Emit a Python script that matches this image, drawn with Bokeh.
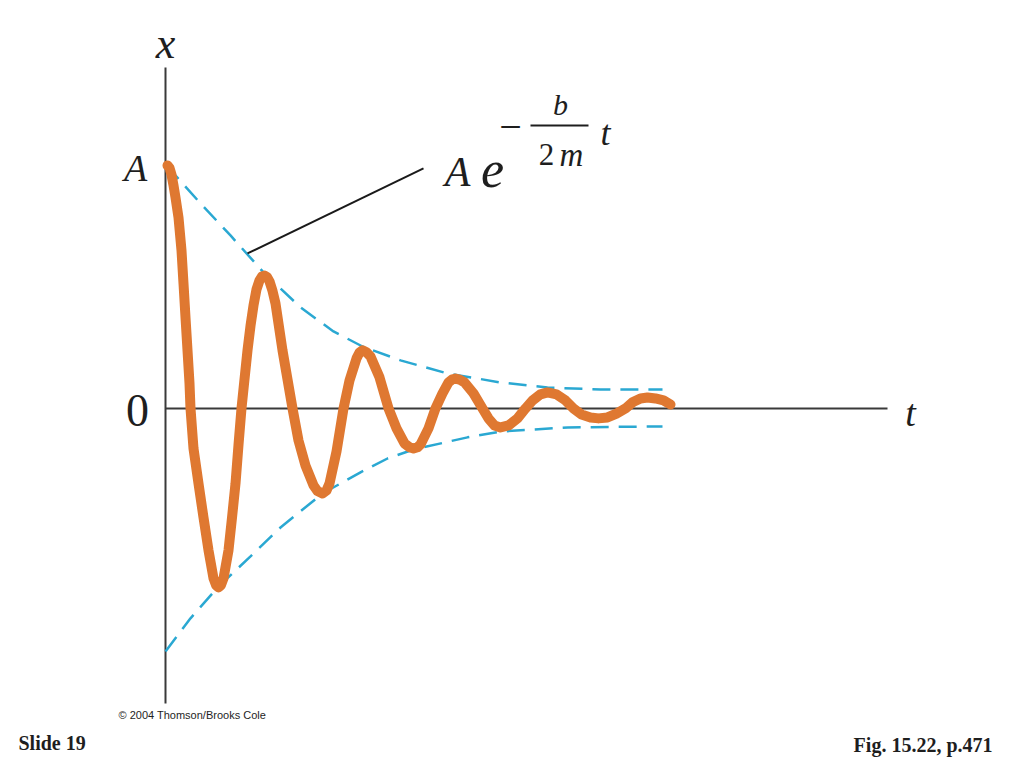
from bokeh.plotting import figure
from bokeh.models import Range1d
from bokeh.core.properties import value
from bokeh.embed import file_html
from bokeh.resources import INLINE

# Damped oscillation x(t) (units of A)
t_curve = [0.02, 0.04, 0.06, 0.08, 0.10, 0.13, 0.16, 0.18, 0.20, 0.22, 0.24, 0.25,
           0.28, 0.33, 0.38, 0.43, 0.48, 0.505, 0.53, 0.555, 0.58, 0.63, 0.665,
           0.70, 0.73, 0.76, 0.79, 0.82, 0.85, 0.88, 0.91, 0.94, 0.965, 0.99,
           1.015, 1.04, 1.07, 1.10, 1.17, 1.22, 1.27, 1.33, 1.40, 1.48, 1.52,
           1.57, 1.61, 1.64, 1.71, 1.78, 1.84, 1.91, 1.94, 1.97, 2.01, 2.05,
           2.14, 2.23, 2.31, 2.39, 2.44, 2.48, 2.52, 2.55, 2.63, 2.70, 2.77,
           2.83, 2.87, 2.90, 2.94, 2.99, 3.08, 3.17, 3.23, 3.29, 3.35, 3.43,
           3.52, 3.60, 3.67, 3.75, 3.82, 3.91, 4.00, 4.08, 4.16, 4.25, 4.33,
           4.42, 4.51, 4.60, 4.67, 4.75, 4.82, 4.90, 4.98, 5.05]
x_curve = [1.00, 0.990, 0.962, 0.918, 0.868, 0.786, 0.650, 0.514, 0.374, 0.239, 0.103, 0.0,
           -0.165, -0.309, -0.449, -0.584, -0.699, -0.727, -0.737, -0.727, -0.699, -0.584, -0.450,
           -0.309, -0.150, 0.0, 0.120, 0.239, 0.340, 0.424, 0.490, 0.527, 0.543, 0.547,
           0.541, 0.523, 0.484, 0.432, 0.239, 0.120, 0.0, -0.132, -0.235, -0.317, -0.340,
           -0.350, -0.338, -0.309, -0.177, 0.0, 0.115, 0.206, 0.230, 0.239, 0.231, 0.214,
           0.128, 0.0, -0.082, -0.144, -0.160, -0.165, -0.160, -0.148, -0.082, 0.0, 0.062,
           0.107, 0.120, 0.123, 0.119, 0.107, 0.062, 0.0, -0.041, -0.070, -0.078, -0.070,
           -0.041, 0.0, 0.033, 0.058, 0.066, 0.058, 0.033, 0.0, -0.025, -0.037, -0.041,
           -0.037, -0.021, 0.0, 0.025, 0.041, 0.045, 0.041, 0.033, 0.016]

# Envelope  +/- A e^{-bt/2m}
t_upper = [0.01, 0.35, 0.65, 0.98, 1.35, 1.68, 1.97, 2.35, 2.82, 3.35, 3.82, 4.35, 4.97]
x_upper = [1.00, 0.844, 0.712, 0.560, 0.416, 0.317, 0.255, 0.198, 0.144, 0.107, 0.086, 0.078, 0.078]
t_lower = [0.00, 0.25, 0.53, 0.85, 1.15, 1.57, 1.95, 2.22, 2.48, 3.02, 3.35, 4.02, 4.97]
x_lower = [-1.000, -0.864, -0.733, -0.609, -0.490, -0.350, -0.263, -0.206, -0.169, -0.119, -0.095, -0.078, -0.074]

# Axes extents
t_axis_end = 7.22
x_axis_top = 1.403
x_axis_bottom = -1.214

W, H = 1016, 760
p = figure(width=W, height=H, output_backend="svg", toolbar_location=None,
           x_range=Range1d(-1.65, 8.51), y_range=Range1d(-1.449, 1.679),
           x_axis_type=None, y_axis_type=None, min_border=0)
p.grid.visible = False
p.outline_line_color = None
p.background_fill_color = "white"
p.border_fill_color = "white"

axis_col = "#3a3a3a"
p.line([0, 0], [x_axis_bottom, x_axis_top], line_color=axis_col, line_width=2)
p.line([0, t_axis_end], [0, 0], line_color=axis_col, line_width=2)

env_col = "#2aa8d2"
p.line(t_upper, x_upper, line_color=env_col, line_width=2.5, line_dash="18 10")
p.line(t_lower, x_lower, line_color=env_col, line_width=2.5, line_dash="18 10")

p.line(t_curve, x_curve, line_color="#df7831", line_width=10,
       line_join="round", line_cap="round")

# leader line to formula
p.line([0.82, 2.58], [0.638, 0.988], line_color="#1a1a1a", line_width=2)

serif = value("Liberation Serif")
txt_col = "#1e1e1e"

def put(t, x, s, size, style="italic", align="center", baseline="middle", font=serif):
    p.text(x=[t], y=[x], text=[s], text_font=font, text_font_size=size,
           text_font_style=style, text_align=align, text_baseline=baseline,
           text_color=txt_col)

put(0.0, 1.50, "x", "44px")
put(-0.30, 0.99, "A", "38px")
put(-0.28, -0.01, "0", "46px", style="normal")
put(7.45, -0.02, "t", "38px")

# formula  A e^{-(b/2m) t}
put(2.92, 0.975, "A", "42px")
put(3.27, 0.985, "e", "52px")
put(3.45, 1.16, "\u2212", "40px", style="normal")
p.line([3.65, 4.23], [1.165, 1.165], line_color=txt_col, line_width=2)
put(3.95, 1.25, "b", "30px")
put(3.81, 1.045, "2", "31px", style="normal")
put(4.06, 1.045, "m", "33px")
put(4.40, 1.135, "t", "36px")

put(-0.47, -1.263, "\u00a9 2004 Thomson/Brooks Cole", "11px", style="normal",
    align="left", font=value("Liberation Sans"))
put(-1.47, -1.379, "Slide 19", "20px", style="bold", align="left")
put(8.27, -1.387, "Fig. 15.22, p.471", "20px", style="bold", align="right")

open("out.html", "w").write(file_html(p, INLINE))
